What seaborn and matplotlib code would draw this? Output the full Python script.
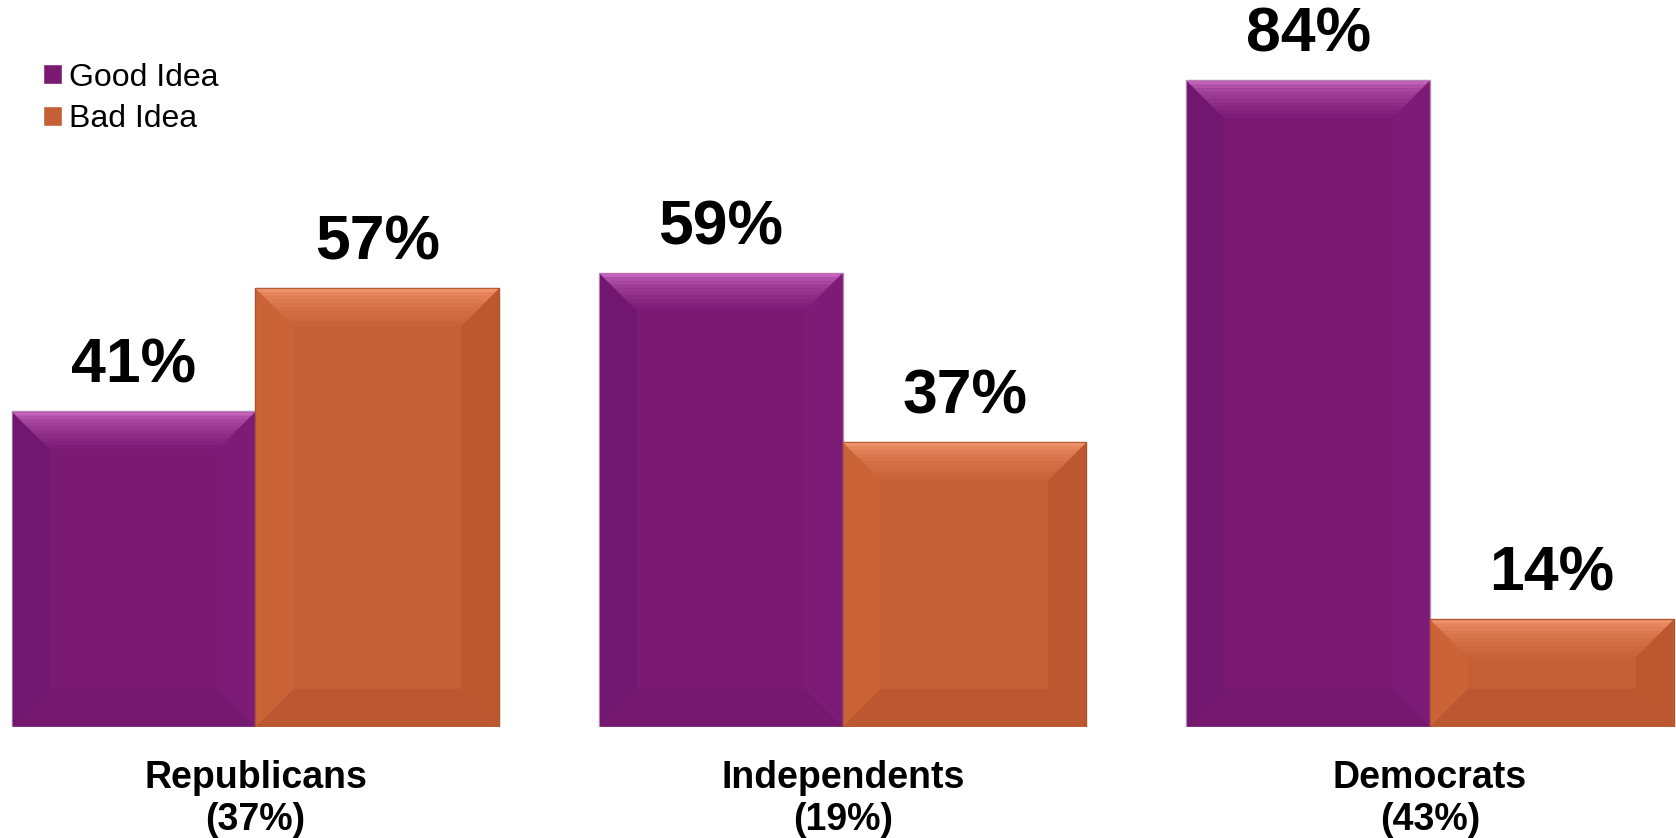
import matplotlib
matplotlib.use("Agg")
import matplotlib.pyplot as plt
from matplotlib.patches import Polygon
from matplotlib.transforms import IdentityTransform
from matplotlib.colors import to_rgb
import numpy as np
import seaborn as sns
import pandas as pd

groups = ["Republicans", "Independents", "Democrats"]
group_shares = ["37%", "19%", "43%"]
series = ["Good Idea", "Bad Idea"]
good_idea = [41, 59, 84]
bad_idea = [57, 37, 14]
colors = ["#7A1A73", "#C55F35"]

sns.set_theme(style="white")
plt.rcParams["font.family"] = ["Liberation Sans", "DejaVu Sans"]
plt.rcParams["text.color"] = "black"
plt.rcParams["xtick.color"] = "black"

df = pd.DataFrame({
    "group": groups * 2,
    "series": [series[0]] * 3 + [series[1]] * 3,
    "value": good_idea + bad_idea,
})

fig = plt.figure(figsize=(16.76, 8.38), dpi=100)
ax = fig.add_axes([0.0, 0.1325, 1.0, 0.8675])
sns.barplot(data=df, x="group", y="value", hue="series", order=groups,
            hue_order=series, palette=colors, width=0.83, gap=0,
            saturation=1, ax=ax, legend=True)

edge = {colors[0]: "#B58AB2", colors[1]: "#A5532E"}
bevel = {
    colors[0]: dict(top0="#C262BA", top1="#7E1D77", left="#721770",
                    right="#7D1C76", bottom="#751970"),
    colors[1]: dict(top0="#F0906A", top1="#C8633A", left="#CA6437",
                    right="#BC5730", bottom="#BC5831"),
}
for cont, c in zip(ax.containers, colors):
    for bar in cont:
        bar.set_edgecolor(edge[c])
        bar.set_linewidth(1.0)
    ax.bar_label(cont, labels=[f"{v:.0f}%" for v in cont.datavalues],
                 padding=11, fontsize=45, fontweight="bold", color="black")

ax.set_xlim(-0.435, 2.419)
ax.set_ylim(0, 94.4)
ax.set_yticks([])
ax.set_xticks(range(len(groups)))
ax.set_xticklabels([f"{g}\n({s})" for g, s in zip(groups, group_shares)],
                   fontsize=27, fontweight="bold", linespacing=1.2,
                   color="black")
ax.tick_params(axis="x", length=0, pad=24)
ax.set_xlabel("")
ax.set_ylabel("")
for sp in ax.spines.values():
    sp.set_visible(False)

handles, labels = ax.get_legend_handles_labels()
ax.legend(handles, labels, loc="upper left", bbox_to_anchor=(0.0257, 0.9254),
          bbox_transform=fig.transFigure, frameon=False, fontsize=23,
          handlelength=0.6, handleheight=0.6, handletextpad=0.2,
          labelspacing=0.36, borderpad=0, borderaxespad=0)

# bevel shading derived from the drawn bar geometry
fig.canvas.draw()
b = 37.0
nstripe = 10
for cont, c in zip(ax.containers, colors):
    bv = bevel[c]
    t0, t1 = np.array(to_rgb(bv["top0"])), np.array(to_rgb(bv["top1"]))
    for bar in cont:
        ext = bar.get_window_extent()
        x0, x1, y0, y1 = ext.x0 + 1, ext.x1 - 1, ext.y0 + 1, ext.y1 - 1
        bb = min(b, (y1 - y0) / 2.5)
        sides = [
            ([(x0, y0), (x0 + bb, y0 + bb), (x0 + bb, y1 - bb), (x0, y1)], bv["left"]),
            ([(x1, y0), (x1 - bb, y0 + bb), (x1 - bb, y1 - bb), (x1, y1)], bv["right"]),
            ([(x0, y0), (x1, y0), (x1 - bb, y0 + bb), (x0 + bb, y0 + bb)], bv["bottom"]),
        ]
        for pts, col in sides:
            fig.add_artist(Polygon(pts, closed=True, facecolor=col, edgecolor="none",
                                   transform=IdentityTransform(), zorder=3))
        for i in range(nstripe):
            d0 = bb * i / nstripe
            d1 = bb * (i + 1) / nstripe
            f = (i / (nstripe - 1)) ** 0.6
            col = t0 + (t1 - t0) * f
            pts = [(x0 + d0, y1 - d0), (x1 - d0, y1 - d0),
                   (x1 - d1, y1 - d1), (x0 + d1, y1 - d1)]
            fig.add_artist(Polygon(pts, closed=True, facecolor=col, edgecolor=col,
                                   linewidth=0.3, transform=IdentityTransform(),
                                   zorder=3))

fig.savefig("out.png", dpi=100)
